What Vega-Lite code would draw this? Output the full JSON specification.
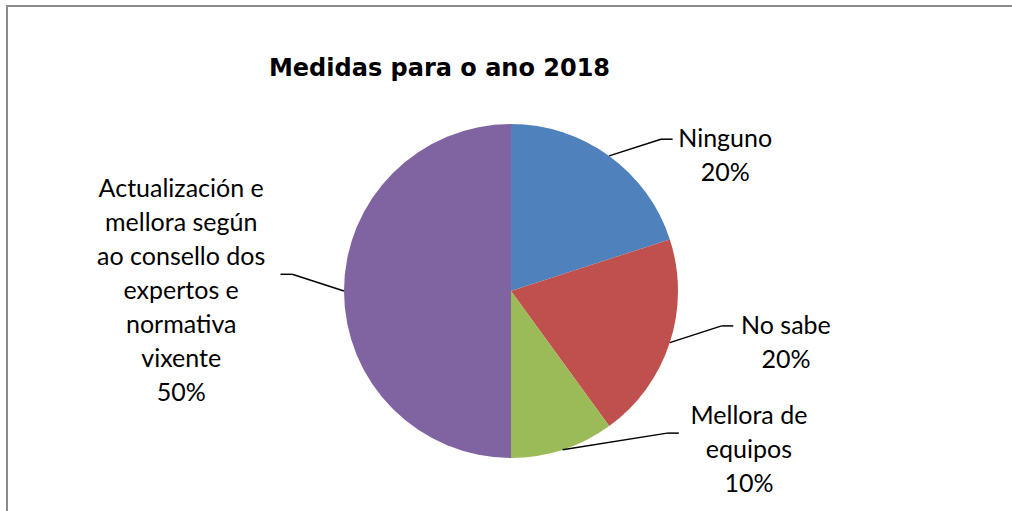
{
  "$schema": "https://vega.github.io/schema/vega-lite/v6.json",
  "autosize": "none",
  "padding": {"left": 7, "top": 6, "right": 0, "bottom": 0},
  "width": 1005,
  "height": 505,
  "background": "white",
  "config": {
    "view": {"stroke": "#8a8a8a", "strokeWidth": 2, "strokeDash": [1005, 1510, 505]}
  },
  "title": {
    "text": "Medidas para o ano 2018",
    "font": "DejaVu Sans",
    "fontSize": 24,
    "fontWeight": "bold",
    "color": "#000000",
    "anchor": "middle",
    "frame": "group",
    "baseline": "middle",
    "offset": 0,
    "dx": -70,
    "dy": 87
  },
  "data": {
    "values": [
      {"medida": "Ninguno", "valor": 20},
      {"medida": "No sabe", "valor": 20},
      {"medida": "Mellora de\nequipos", "valor": 10},
      {"medida": "Actualización e\nmellora según\nao consello dos\nexpertos e\nnormativa\nvixente", "valor": 50}
    ]
  },
  "transform": [
    {"window": [{"op": "row_number", "as": "idx"}]},
    {"joinaggregate": [{"op": "sum", "field": "valor", "as": "total"}]},
    {"window": [{"op": "sum", "field": "valor", "as": "cum"}], "sort": [{"field": "idx"}], "frame": [null, 0]},
    {"calculate": "2 * PI * (datum.cum - datum.valor / 2) / datum.total", "as": "mid"},
    {"calculate": "sin(datum.mid)", "as": "ex"},
    {"calculate": "cos(datum.mid)", "as": "ey"},
    {"calculate": "datum.ex >= 0 ? 1 : -1", "as": "side"},
    {"calculate": "0.45 + max(0, -datum.ey - 0.5) * 0.7", "as": "gap"},
    {"calculate": "datum.ex + datum.side * (datum.gap - 0.14)", "as": "kx"},
    {"calculate": "datum.ey + 0.1", "as": "ky"},
    {"calculate": "datum.ex + datum.side * (datum.gap - 0.07)", "as": "hx"},
    {"calculate": "split(datum.medida, '\\n')", "as": "lines"},
    {"calculate": "max(length(datum.lines[0] || ''), length(datum.lines[1] || ''), length(datum.lines[2] || ''), length(datum.lines[3] || ''), length(datum.lines[4] || ''), length(datum.lines[5] || ''), length(datum.lines[6] || ''))", "as": "maxlen"},
    {"calculate": "datum.ex + datum.side * (datum.gap + 0.035 * datum.maxlen)", "as": "lx"},
    {"calculate": "datum.ey + length(datum.lines) * 17 / 167", "as": "ly"},
    {"calculate": "datum.medida + '\\n' + datum.valor + '%'", "as": "label"}
  ],
  "layer": [
    {
      "mark": {"type": "arc", "outerRadius": 167, "stroke": null},
      "encoding": {
        "x": {"datum": 0, "type": "quantitative", "scale": {"domain": [-3.018, 3.0], "nice": false, "zero": false}, "axis": null},
        "y": {"datum": 0, "type": "quantitative", "scale": {"domain": [-1.3174, 1.7066], "nice": false, "zero": false}, "axis": null},
        "theta": {"field": "valor", "type": "quantitative", "stack": true},
        "order": {"field": "idx", "type": "quantitative"},
        "color": {
          "field": "medida",
          "type": "nominal",
          "scale": {
            "domain": ["Ninguno", "No sabe", "Mellora de\nequipos", "Actualización e\nmellora según\nao consello dos\nexpertos e\nnormativa\nvixente"],
            "range": ["#4F81BD", "#C0504D", "#9BBB59", "#8064A2"]
          },
          "legend": null
        }
      }
    },
    {
      "mark": {"type": "rule", "color": "#000000", "strokeWidth": 1.5},
      "encoding": {
        "x": {"field": "ex", "type": "quantitative", "scale": {"domain": [-3.018, 3.0], "nice": false, "zero": false}, "axis": null},
        "y": {"field": "ey", "type": "quantitative", "scale": {"domain": [-1.3174, 1.7066], "nice": false, "zero": false}, "axis": null},
        "x2": {"field": "kx"},
        "y2": {"field": "ky"}
      }
    },
    {
      "mark": {"type": "rule", "color": "#000000", "strokeWidth": 1.5},
      "encoding": {
        "x": {"field": "kx", "type": "quantitative", "scale": {"domain": [-3.018, 3.0], "nice": false, "zero": false}, "axis": null},
        "y": {"field": "ky", "type": "quantitative", "scale": {"domain": [-1.3174, 1.7066], "nice": false, "zero": false}, "axis": null},
        "x2": {"field": "hx"}
      }
    },
    {
      "mark": {"type": "text", "font": "Lato", "fontSize": 25, "lineHeight": 34, "lineBreak": "\n", "align": "center", "baseline": "middle", "color": "#000000"},
      "encoding": {
        "x": {"field": "lx", "type": "quantitative", "scale": {"domain": [-3.018, 3.0], "nice": false, "zero": false}, "axis": null},
        "y": {"field": "ly", "type": "quantitative", "scale": {"domain": [-1.3174, 1.7066], "nice": false, "zero": false}, "axis": null},
        "text": {"field": "label", "type": "nominal"}
      }
    }
  ]
}
